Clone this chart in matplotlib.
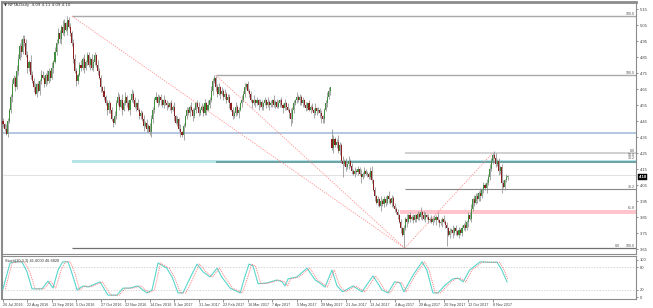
import numpy as np
import matplotlib
matplotlib.use("Agg")
import matplotlib.pyplot as plt
import matplotlib.transforms as mtransforms

plt.rcParams['font.family'] = ['Liberation Sans', 'DejaVu Sans']

# ---------------- data ----------------
closes_c = [
    443, 440, 437, 445, 452, 460, 468, 472, 466, 476,
    484, 492, 488, 496, 494, 486, 478, 482, 474, 470,
    466, 462, 468, 464, 470, 474, 472, 468, 474, 470,
    476, 472, 478, 482, 488, 494, 500, 496, 504, 500,
    506, 502, 508, 504, 500, 494, 484, 476, 470, 474,
    480, 478, 484, 478, 482, 486, 480, 484, 478, 482,
    486, 480, 476, 472, 466, 464, 460, 456, 452, 456,
    452, 446, 444, 448, 456, 460, 454, 458, 452, 456,
    460, 456, 452, 458, 462, 458, 454, 456, 452, 448,
    450, 446, 442, 444, 440, 442, 438, 446, 452, 458,
    460, 456, 460, 458, 455, 458, 456, 455, 454, 456,
    452, 454, 448, 444, 446, 440, 438, 436, 442, 448,
    452, 450, 454, 452, 448, 452, 456, 454, 450, 452,
    454, 450, 456, 452, 455, 458, 464, 470, 472, 466,
    462, 466, 462, 464, 460, 462, 458, 460, 456, 452,
    448, 450, 454, 450, 452, 456, 458, 462, 466, 468,
    464, 462, 458, 456, 458, 456, 458, 455, 457, 454,
    456, 458, 455, 457, 455, 456, 458, 455, 457, 454,
    456, 458, 455, 453, 456, 454, 452, 450, 446, 452,
    456, 458, 460, 458, 460, 456, 458, 455, 453, 456,
    452, 454, 452, 450, 453, 451, 452, 450, 448, 446,
    452, 456, 460, 464, 466, 428, 434, 430, 432, 426,
    430, 420, 418, 420, 416, 418, 420, 417, 414, 412,
    414, 413, 415, 412, 410, 412, 414, 412, 412, 410,
    414, 408, 402, 398, 394, 396, 392, 395, 393, 396,
    394, 398, 396, 394, 397, 392, 390, 388, 386, 382,
    378, 374, 378, 384, 382, 386, 384, 385, 383, 386,
    384, 387, 385, 388, 386, 384, 386, 385, 383, 384,
    382, 384, 383, 385, 383, 381, 382, 384, 382, 380,
    378, 374, 376, 377, 375, 378, 376, 374, 377, 375,
    378, 380, 378, 382, 386, 384, 390, 396, 394, 398,
    396, 400, 398, 402, 405, 403, 406, 410, 415, 420,
    424, 422, 418, 420, 414, 416, 406, 404, 408, 410, 410,
]
up_wick = ("2132123214" "3241323142" "2312132213" "2141323214" "3152212321"
           "2313122132" "2132213122" "1213232142" "3121322131" "2131212322"
           "3212131221" "2131213121" "2213121231" "2131323221" "2312131221"
           "2131213232" "2121312121" "1213121312" "2121312132" "2131212121"
           "2121312121" "1232362124" "2131213121" "2121312121" "2312121312"
           "2131212121" "2121312121" "1213432121" "2121312121" "2121312121"
           "2131223132" "2131213232" "12312122121")
down_wick = ("2142123121" "2131213231" "3121321212" "1213121231" "2131223132"
             "1213121312" "2121312132" "2131212131" "1213121312" "2131212322"
             "1213121312" "2131213131" "2121312121" "1213121312" "2131212131"
             "2121312121" "1213121312" "2121312121" "1213121332" "2121312121"
             "1213121312" "2121313121" "2131213121" "2121312121" "1213121312"
             "2121312121" "3121312121" "2121312121" "1213121312" "2121312121"
             "2121312121" "2131213121" "21213221212")
spike_low = {2: 4.36, 95: 4.38, 117: 4.35, 188: 4.42, 208: 4.44, 222: 4.10,
             234: 4.06, 262: 3.656, 290: 3.67, 326: 4.00}
spike_high = {13: 4.99, 42: 5.106, 138: 4.737, 159: 4.69, 214: 4.66,
              274: 3.89, 320: 4.25}
first_open = 4.45
gap_open = {215: 4.34}

# stochastic (bar position, value)
k_bars = [0, 4.6, 7.8, 12.4, 15.7, 19, 25.5, 29.4, 32.7, 36, 39, 42.5, 45, 48.4,
          52.3, 55.6, 63.4, 68.6, 74.5, 78.4, 83, 88, 94, 97.4, 101.3, 107, 110.5,
          114.4, 117.6, 122, 126.8, 130.7, 135.3, 139.9, 143, 148.4, 155, 158,
          160.8, 163.4, 166.7, 172.5, 179, 182.4, 184.3, 186.3, 192, 198.7, 204,
          207, 210.5, 215, 218.3, 222, 228.8, 234.6, 241.8, 247.7, 251.6, 256,
          259.5, 262, 268, 273.9, 277, 281, 284.3, 288.9, 294, 297.4, 300.7, 305,
          311.8, 316.3, 322.9, 326, 329.4]
k_vals = [22, 92, 95, 95, 68, 22, 22, 43, 24, 73, 95, 95, 65, 19,
          30, 27, 41, 5, 5, 24, 24, 30, 11, 19, 92, 78, 54,
          11, 11, 49, 89, 68, 54, 78, 54, 24, 11, 54,
          89, 84, 36, 38, 46, 41, 30, 49, 54, 78, 46,
          38, 27, 73, 30, 14, 30, 14, 57, 19, 11, 41,
          38, 14, 59, 95, 73, 11, 11, 32, 49, 51, 41, 73,
          95, 94, 94, 73, 41]
d_bars = [1.5, 6, 9.5, 14, 17.5, 21, 27, 31, 34.5, 38, 41, 44, 47, 50,
          54, 57.5, 65, 70.5, 76, 80, 85, 90, 95.5, 99, 103, 108.5, 112,
          116, 119.5, 124, 128.5, 132.5, 137, 141.5, 145, 150, 156.5, 160,
          162.5, 165, 168.5, 174, 180.5, 184, 186, 188, 193.5, 200.5, 205.5,
          208.5, 212, 216.5, 220, 224, 230.5, 236.5, 243.5, 249.5, 253, 257.5,
          261, 263.5, 269.5, 275.5, 278.5, 282.5, 286, 290.5, 295.5, 299, 302.5,
          306.5, 313.5, 318, 324.5, 327.5, 330]
d_vals = [22, 92, 95, 95, 68, 22, 22, 43, 24, 73, 95, 95, 65, 19,
          30, 27, 41, 5, 5, 24, 24, 30, 11, 19, 92, 78, 54,
          11, 11, 49, 89, 68, 54, 78, 54, 24, 11, 54,
          89, 84, 36, 38, 46, 41, 30, 49, 54, 78, 46,
          38, 27, 73, 30, 14, 30, 14, 57, 19, 11, 41,
          38, 14, 59, 95, 73, 11, 11, 32, 49, 51, 41, 73,
          95, 94, 94, 73, 47]

date_labels = ["26 Jul 2016", "22 Aug 2016", "13 Sep 2016", "5 Oct 2016", "27 Oct 2016",
               "22 Nov 2016", "14 Dec 2016", "9 Jan 2017", "31 Jan 2017", "22 Feb 2017",
               "16 Mar 2017", "7 Apr 2017", "5 May 2017", "29 May 2017", "21 Jun 2017",
               "13 Jul 2017", "4 Aug 2017", "29 Aug 2017", "20 Sep 2017", "12 Oct 2017",
               "8 Nov 2017"]
date_bars = [16 * k for k in range(len(date_labels))]
price_ticks = [5.15, 5.05, 4.95, 4.85, 4.75, 4.65, 4.55, 4.45, 4.35, 4.25,
               4.15, 4.05, 3.95, 3.85, 3.75, 3.65]

# fibonacci / zones (price levels)
fib1_start, fib1_level = 45, 5.106
fib2_start, fib2_level = 139, 4.737
low_bar, low_price = 262.5, 3.656
high_bar, high_price = 320, 4.25
blue_zone = (4.368, 4.382)
teal_zone = (4.187, 4.206)
pink_zone = (3.868, 3.893)
lower_fib_levels = [4.25, 4.110, 4.023, 3.883, 3.656]
last_price = 4.10

# ---------------- build candles ----------------
c = np.array(closes_c) / 100.0
n = len(c)
o = np.empty(n)
o[0] = first_open
o[1:] = c[:-1]
for k, v in gap_open.items():
    o[k] = v
uw = np.array([int(ch) for ch in up_wick]) / 100.0
dw = np.array([int(ch) for ch in down_wick]) / 100.0
h = np.maximum(o, c) + uw[:n]
l = np.minimum(o, c) - dw[:n]
for k, v in spike_low.items():
    l[k] = v
for k, v in spike_high.items():
    h[k] = v
x = np.arange(n)

# ---------------- figure ----------------
W, H = 653, 308
fig = plt.figure(figsize=(W / 100, H / 100), dpi=100)
fig.patch.set_facecolor('white')

def fx(px):
    return px / W

def fy(py):
    return 1 - py / H

ax = fig.add_axes([fx(2), fy(254), fx(634), fy(2) - fy(254)])
axs = fig.add_axes([fx(2), fy(299), fx(634), fy(256) - fy(299)])

x0, x1 = -0.65, 413.7
ax.set_xlim(x0, x1)
ax.set_ylim(3.619, 5.194)
axs.set_xlim(x0, x1)
axs.set_ylim(-5.4, 110.8)

gray_line = '#a8a8a8'
dark_line = '#707070'

# zones
ax.axhspan(*blue_zone, color='#b4c8e2', lw=0, zorder=1)
ax.fill_between([fib1_start, x1], teal_zone[0], teal_zone[1], color='#b6e3e6', lw=0, zorder=1)
ax.fill_between([fib2_start, x1], teal_zone[0] + 0.003, teal_zone[1] - 0.003, color='#6fa3a6', lw=0, zorder=1)
ax.fill_between([low_bar - 3, x1], pink_zone[0], pink_zone[1], color='#ffc4cc', lw=0, zorder=1)

# fib lines
ax.hlines(fib1_level, fib1_start, x1, color=gray_line, lw=1.0, zorder=2)
ax.hlines(fib2_level, fib2_start, x1, color=gray_line, lw=1.0, zorder=2)
ax.hlines(low_price, fib1_start, x1, color=dark_line, lw=0.9, zorder=2)
ax.hlines(lower_fib_levels[0], low_bar, x1, color='#c8c8c8', lw=1.2, zorder=2)
ax.hlines(lower_fib_levels[1], 0, x1, color='#dcdcdc', lw=0.6, zorder=2)
ax.hlines(lower_fib_levels[2], low_bar, x1, color='#888888', lw=0.8, zorder=2)

# dotted trend lines
tl = dict(color='#ff8c8c', lw=0.6, ls=(0, (1.5, 1.5)), zorder=2)
ax.plot([fib1_start, low_bar], [fib1_level, low_price], **tl)
ax.plot([fib2_start, low_bar], [fib2_level, low_price], **tl)
ax.plot([low_bar, high_bar], [low_price, high_price], **tl)

# candles
ax.vlines(x, l, h, color='#8f8f8f', lw=0.55, zorder=3)
bull = c >= o
body_bottom = np.minimum(o, c)
body_h = np.maximum(np.abs(c - o), 0.004)
ax.bar(x[bull], body_h[bull], bottom=body_bottom[bull], width=0.7,
       color='#3f8f3f', lw=0, zorder=4)
ax.bar(x[~bull], body_h[~bull], bottom=body_bottom[~bull], width=0.7,
       color='#8e1f1f', lw=0, zorder=4)

# fib labels
lbl = dict(fontsize=2.6, color='#505050', ha='right', va='bottom', zorder=6)
xr = x1 - 0.5
ax.text(xr, fib1_level, '100.0', **lbl)
ax.text(xr, fib2_level, '100.0', **lbl)
ax.text(xr, lower_fib_levels[0], '0.0', **lbl)
ax.text(xr, teal_zone[1] - 0.002, '38.2', **lbl)
ax.text(xr, teal_zone[1] + 0.018, '50.0', **lbl)
ax.text(xr, lower_fib_levels[2], '38.2', **lbl)
ax.text(xr, pink_zone[1], '61.8', **lbl)
ax.text(xr, low_price, '100.0', **lbl)
ax.text(xr - 10, low_price, '0.0', **lbl)

# axes styling
for a in (ax, axs):
    for s in a.spines.values():
        s.set_color('#8c8c8c')
        s.set_linewidth(0.8)
ax.spines['top'].set_linewidth(2.0)
ax.spines['left'].set_linewidth(1.5)
axs.spines['left'].set_linewidth(1.5)

ax.yaxis.tick_right()
ax.set_yticks(price_ticks)
ax.set_yticklabels([f'{p:.2f}' for p in price_ticks])
ax.tick_params(axis='y', labelsize=3, length=1.5, width=0.4, pad=1.5, colors='#404040')
ax.set_xticks([])

# last price tag
trans = mtransforms.blended_transform_factory(ax.transAxes, ax.transData)
ax.text(1.004, last_price, f'{last_price:.2f}', transform=trans, fontsize=3, color='white',
        va='center', ha='left', fontweight='bold',
        bbox=dict(boxstyle='square,pad=0.2', fc='black', ec='black', lw=0.3), zorder=7, clip_on=False)

# stochastic
axs.axhline(80, color='#c4c4c4', lw=0.5, ls=(0, (2, 2)))
axs.axhline(20, color='#c4c4c4', lw=0.5, ls=(0, (2, 2)))
axs.plot(k_bars, k_vals, color='#58d6cc', lw=0.8, zorder=3)
axs.plot(d_bars, d_vals, color='#ff6b6b', lw=0.6, ls=(0, (1.2, 1.2)), zorder=4)
axs.yaxis.tick_right()
axs.set_yticks([0, 20, 80, 100])
axs.set_yticklabels(['0', '20', '80', '100'])
axs.tick_params(axis='y', labelsize=3, length=1.5, width=0.4, pad=1.5, colors='#404040')
axs.set_xticks(date_bars)
axs.set_xticklabels(date_labels, ha='left')
axs.tick_params(axis='x', labelsize=2.7, length=2, width=0.4, pad=1.2, colors='#404040')
axs.text(0.004, 0.93, 'Stoch(10,3,3) 41.6000 46.6820', transform=axs.transAxes,
         fontsize=2.8, color='#303030', va='top', ha='left')

fig.text(fx(4), fy(5), '\u25BC NFTA,Daily  4.09 4.11 4.09 4.10', fontsize=2.8,
         color='#303030', va='center', ha='left', family=['DejaVu Sans'])

fig.savefig('out.png', dpi=100, facecolor='white')
